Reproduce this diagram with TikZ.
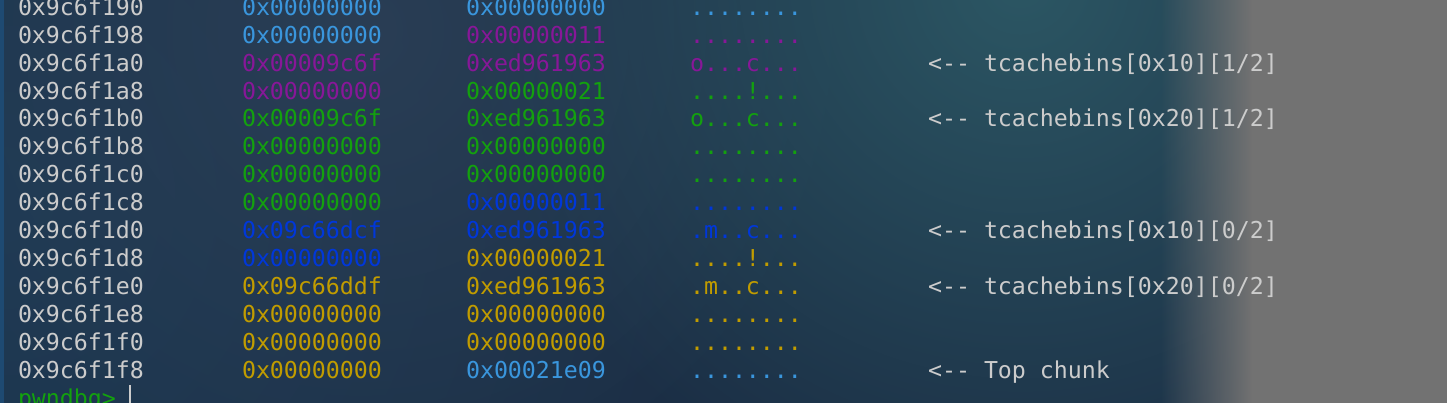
\documentclass[tikz,border=0pt]{standalone}
\usepackage{fontspec}
\setmonofont{DejaVu Sans Mono}
\usetikzlibrary{fadings}
\definecolor{bgbase}{HTML}{1B2E45}
\definecolor{bgleft}{HTML}{1F3B55}
\definecolor{bgteal}{HTML}{2C5764}
\definecolor{bgmid}{HTML}{2A3E55}
\definecolor{grayc}{HTML}{727272}
\definecolor{edgec}{HTML}{1E4A72}
\definecolor{tw}{HTML}{CCCCCC}
\definecolor{tcy}{HTML}{3A96DD}
\definecolor{tpu}{HTML}{881798}
\definecolor{tgr}{HTML}{13A10E}
\definecolor{tbl}{HTML}{0037DA}
\definecolor{tye}{HTML}{C19C00}
\tikzfading[name=fadein, left color=transparent!100, right color=transparent!0]
\tikzfading[name=glow, inner color=transparent!0, outer color=transparent!100]
\tikzset{cell/.style={anchor=base west, inner sep=0pt, outer sep=0pt, font=\ttfamily\fontsize{23.25}{28}\selectfont}}
\newcommand\memrow[7]{%
  \pgfmathsetmacro\yb{15.2+27.94*#1}%
  \node[cell,text=tw] (a#1) at (18,\yb) {#2};
  \node[cell,text=#3] (p#1) at (242,\yb) {#4};
  \node[cell,text=#5] (q#1) at (466,\yb) {#6};
  \node[cell,text=#5] (s#1) at (690,\yb) {#7};
}
\newcommand\memnote[2]{%
  \pgfmathsetmacro\yb{15.2+27.94*#1}%
  \node[cell,text=tw] (n#1) at (928,\yb) {#2};
}
\begin{document}
\begin{tikzpicture}[x=1pt,y=-1pt]
\useasboundingbox (0,0) rectangle (1447,402);
\begin{scope}
\clip (-6,-6) rectangle (1453,408);
% background
\fill[bgbase] (-6,-6) rectangle (1453,408);
\fill[bgleft, path fading=glow] (0,200) circle (700);
\fill[bgmid, path fading=glow] (360,30) circle (500);
\fill[bgteal, path fading=glow] (1020,-20) circle (560);
\fill[edgec] (-6,-6) rectangle (3.5,408);
\fill[grayc, path fading=fadein] (1160,-6) rectangle (1252,408);
\fill[grayc] (1251.5,-6) rectangle (1453,408);
\end{scope}
% memory rows
\memrow{0}{0x9c6f190}{tcy}{0x00000000}{tcy}{0x00000000}{........}
\memrow{1}{0x9c6f198}{tcy}{0x00000000}{tpu}{0x00000011}{........}
\memrow{2}{0x9c6f1a0}{tpu}{0x00009c6f}{tpu}{0xed961963}{o...c...}
\memrow{3}{0x9c6f1a8}{tpu}{0x00000000}{tgr}{0x00000021}{....!...}
\memrow{4}{0x9c6f1b0}{tgr}{0x00009c6f}{tgr}{0xed961963}{o...c...}
\memrow{5}{0x9c6f1b8}{tgr}{0x00000000}{tgr}{0x00000000}{........}
\memrow{6}{0x9c6f1c0}{tgr}{0x00000000}{tgr}{0x00000000}{........}
\memrow{7}{0x9c6f1c8}{tgr}{0x00000000}{tbl}{0x00000011}{........}
\memrow{8}{0x9c6f1d0}{tbl}{0x09c66dcf}{tbl}{0xed961963}{.m..c...}
\memrow{9}{0x9c6f1d8}{tbl}{0x00000000}{tye}{0x00000021}{....!...}
\memrow{10}{0x9c6f1e0}{tye}{0x09c66ddf}{tye}{0xed961963}{.m..c...}
\memrow{11}{0x9c6f1e8}{tye}{0x00000000}{tye}{0x00000000}{........}
\memrow{12}{0x9c6f1f0}{tye}{0x00000000}{tye}{0x00000000}{........}
\memrow{13}{0x9c6f1f8}{tye}{0x00000000}{tcy}{0x00021e09}{........}
\memnote{2}{<-- tcachebins[0x10][1/2]}
\memnote{4}{<-- tcachebins[0x20][1/2]}
\memnote{8}{<-- tcachebins[0x10][0/2]}
\memnote{10}{<-- tcachebins[0x20][0/2]}
\memnote{13}{<-- Top chunk}
% prompt and cursor
\node[cell,text=tgr] (prompt) at (18,{15.2+27.94*14}) {pwndbg>};
\fill[tw] (129,385) rectangle (130.6,408);
\end{tikzpicture}
\end{document}
